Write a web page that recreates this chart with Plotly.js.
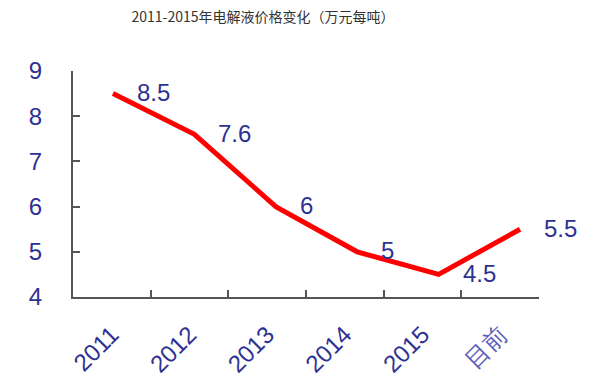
<!DOCTYPE html>
<html>
<head>
<meta charset="utf-8">
<script src="https://cdn.plot.ly/plotly-3.0.1.min.js"></script>
<style>html,body{margin:0;padding:0;background:#fff;}#chart{width:595px;height:384px;}</style>
</head>
<body>
<div id="chart"></div>
<script>
var categories = ['2011', '2012', '2013', '2014', '2015', '目前'];
var prices = [8.5, 7.6, 6, 5, 4.5, 5.5];
var labels = ['8.5', '7.6', '6', '5', '4.5', '5.5'];
var yTicks = [4, 5, 6, 7, 8, 9];

var blue = '#2e3192';
var idx = categories.map(function (c, i) { return i; });

var tickText = categories.map(function (c) {
  return c === '目前' ? '<span style="color:#5b5db8">' + c + '</span>' : c;
});

// invisible trace to hold the categorical axis
var base = {
  x: categories, y: prices, type: 'scatter', mode: 'none',
  xaxis: 'x', yaxis: 'y', hoverinfo: 'skip', showlegend: false
};
var line = {
  x: idx, y: prices, type: 'scatter', mode: 'lines',
  line: {color: '#ff0000', width: 5},
  xaxis: 'x2', yaxis: 'y', showlegend: false
};

var annotations = idx.map(function (i) {
  return {
    x: i, y: prices[i], xref: 'x2', yref: 'y', text: labels[i],
    showarrow: false, xanchor: 'left', yanchor: 'middle', xshift: 22, yshift: 1,
    font: {family: 'Liberation Sans, Arial, sans-serif', size: 24, color: blue}
  };
});

var layout = {
  width: 595, height: 384,
  margin: {l: 73, r: 56, t: 71, b: 87},
  paper_bgcolor: '#ffffff', plot_bgcolor: '#ffffff',
  title: {
    text: '2011-2015年电解液价格变化（万元每吨）',
    x: 0.442, xanchor: 'center', y: 0.955, yanchor: 'middle',
    font: {family: 'Noto Sans CJK SC, sans-serif', size: 14, color: '#333333'}
  },
  xaxis: {
    type: 'category', range: [-0.5, 5.5],
    tickvals: categories, ticktext: tickText,
    tickson: 'boundaries', ticks: 'inside', ticklen: 7, tickwidth: 2, tickcolor: '#555555',
    showline: true, linecolor: '#555555', linewidth: 2, showgrid: false, zeroline: false,
    tickangle: -45, ticklabelstandoff: 12,
    tickfont: {family: 'Liberation Sans, Arial, sans-serif', size: 24, color: blue}
  },
  xaxis2: {
    overlaying: 'x', range: [-0.491, 5.233], visible: false
  },
  yaxis: {
    range: [4, 9], tickvals: yTicks, ticktext: yTicks.map(String),
    ticks: 'inside', ticklen: 7, tickwidth: 2, tickcolor: '#555555',
    showline: true, linecolor: '#555555', linewidth: 2, showgrid: false, zeroline: false,
    ticklabelstandoff: 24,
    tickfont: {family: 'Liberation Sans, Arial, sans-serif', size: 24, color: blue}
  },
  annotations: annotations
};

Plotly.newPlot('chart', [base, line], layout, {displayModeBar: false, staticPlot: true});
</script>
</body>
</html>
